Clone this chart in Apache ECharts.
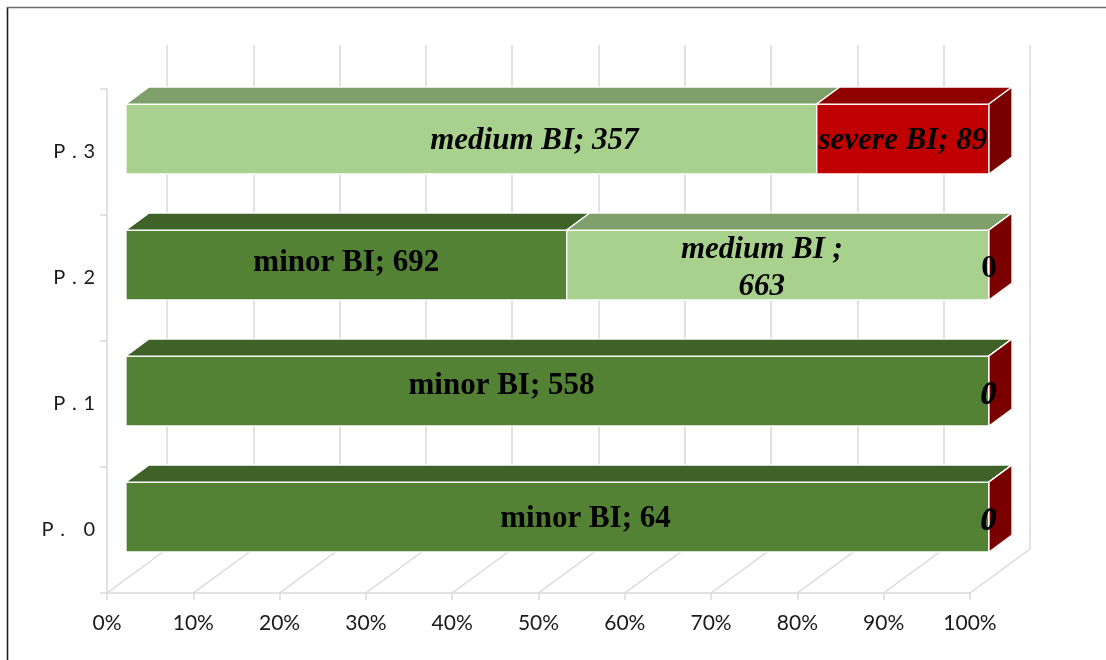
<!DOCTYPE html>
<html>
<head>
<meta charset="utf-8">
<script src="https://cdn.jsdelivr.net/npm/echarts@6/dist/echarts.min.js"></script>
<style>
  html, body { margin: 0; padding: 0; background: #ffffff; }
  #chart { width: 1106px; height: 660px; }
</style>
</head>
<body>
<div id="chart"></div>
<script>
// ---- data ----
const categories = ['P. 0', 'P.1', 'P.2', 'P.3'];
const seriesNames = ['minor BI', 'medium BI', 'severe BI'];
const minorBI  = [64, 558, 692, 0];
const mediumBI = [0, 0, 663, 357];
const severeBI = [0, 0, 0, 89];
const percentTicks = [0, 10, 20, 30, 40, 50, 60, 70, 80, 90, 100];

// ---- layout / style ----
const FRONT = { left: 107, top: 89, width: 863, height: 504 };   // axis plane (floor front edge)
const WALL_OFFSET = [60, -44];     // back wall relative to the front plane
const BAR_OFFSET = [19, -13];      // bar front faces relative to the front plane
const BAR_DEPTH = [23, -17];       // thickness of each box
const BAR_FILL = 0.555;            // share of a category band used by a bar
const GRID_COLOR = '#d9d9d9';

const PALETTE = [
  { front: '#548235', top: '#3f6229', side: '#3a5a24' },
  { front: '#a9d18e', top: '#7f9f6b', side: '#6f8d5c' },
  { front: '#c00000', top: '#900000', side: '#7a0000' }
];

// label appearance per series / point
const LABEL_FONT = 31;
const labelItalic = [
  [false, false, false, false],
  [true, true, true, true],
  [true, true, false, true]
];
const labelSeparator = [
  ['; ', '; ', '; ', '; '],
  ['; ', '; ', ' ;\n', '; '],
  ['; ', '; ', '; ', '; ']
];
const labelShift = [
  [[28, 2], [-56, -5], [0, -2], [0, 0]],
  [[0, 4], [0, 4], [-16, 3], [63, 2]],
  [[-1, 5], [-1, 5], [0, 4], [0, 2]]
];
const labelHidden = [
  [false, false, false, true],
  [false, false, false, false],
  [false, false, false, false]
];

// ---- build stacked 100% segments ----
const valueSets = [minorBI, mediumBI, severeBI];
const totals = categories.map((_, c) => valueSets.reduce((s, arr) => s + arr[c], 0));
const segments = valueSets.map(() => []);
categories.forEach((_, c) => {
  let acc = 0;
  valueSets.forEach((arr, si) => {
    const start = acc;
    acc += arr[c] / totals[c] * 100;
    segments[si].push([c, start, acc, arr[c]]);
  });
});

function boxRenderer(si) {
  return function (params, api) {
    const c = api.value(0), s = api.value(1), e = api.value(2), raw = api.value(3);
    const a = api.coord([s, c]);
    const b = api.coord([e, c]);
    const h = api.size([0, 1])[1] * BAR_FILL;
    const xL = a[0], xR = b[0], yT = a[1] - h / 2, yB = a[1] + h / 2;
    const dx = BAR_DEPTH[0], dy = BAR_DEPTH[1];
    const col = PALETTE[si];
    const edge = { stroke: '#ffffff', lineWidth: 1.3, lineJoin: 'round' };
    const children = [
      { type: 'polygon', shape: { points: [[xL, yB], [xR, yB], [xR, yT], [xL, yT]] },
        style: Object.assign({ fill: col.front }, edge) },
      { type: 'polygon', shape: { points: [[xL, yT], [xR, yT], [xR + dx, yT + dy], [xL + dx, yT + dy]] },
        style: Object.assign({ fill: col.top }, edge) }
    ];
    if (e >= 99.999) {
      children.push({ type: 'polygon',
        shape: { points: [[xR, yB], [xR, yT], [xR + dx, yT + dy], [xR + dx, yB + dy]] },
        style: Object.assign({ fill: col.side }, edge) });
    }
    if (!labelHidden[si][c]) {
      const txt = raw === 0 ? '0' : seriesNames[si] + labelSeparator[si][c] + raw;
      const sh = labelShift[si][c];
      children.push({
        type: 'text', z2: 100,
        style: {
          text: txt,
          x: (xL + xR) / 2 + sh[0],
          y: (yT + yB) / 2 + sh[1],
          align: 'center', verticalAlign: 'middle',
          fontFamily: '"Liberation Serif", "Times New Roman", serif',
          fontWeight: 'bold',
          fontStyle: labelItalic[si][c] ? 'italic' : 'normal',
          fontSize: LABEL_FONT,
          lineHeight: 37,
          fill: '#000000'
        }
      });
    }
    return { type: 'group', children: children };
  };
}

function shifted(off) {
  return { left: FRONT.left + off[0], top: FRONT.top + off[1], width: FRONT.width, height: FRONT.height };
}

const chart = echarts.init(document.getElementById('chart'), null, { renderer: 'canvas' });

const option = {
  animation: false,
  backgroundColor: '#ffffff',
  grid: [
    Object.assign({ containLabel: false }, FRONT),
    Object.assign({ containLabel: false }, shifted(BAR_OFFSET)),
    Object.assign({ containLabel: false }, shifted(WALL_OFFSET))
  ],
  xAxis: [
    {
      gridIndex: 0, type: 'value', min: 0, max: 100, interval: 10,
      axisLine: { show: true, lineStyle: { color: GRID_COLOR, width: 1.5 } },
      axisTick: { show: true, length: 7, lineStyle: { color: GRID_COLOR, width: 1.5 } },
      splitLine: { show: false },
      axisLabel: { formatter: '{value}%', margin: 20, color: '#1a1a1a',
        fontFamily: 'Lato, "Open Sans", sans-serif', fontSize: 21 }
    },
    { gridIndex: 1, type: 'value', min: 0, max: 100, show: false },
    {
      gridIndex: 2, type: 'value', min: 0, max: 100, interval: 10,
      axisLine: { show: false }, axisTick: { show: false }, axisLabel: { show: false },
      splitLine: { show: true, lineStyle: { color: GRID_COLOR, width: 1.5 } }
    }
  ],
  yAxis: [
    {
      gridIndex: 0, type: 'category', data: categories,
      axisLine: { show: true, lineStyle: { color: GRID_COLOR, width: 1.5 } },
      axisTick: { show: true, length: 7, lineStyle: { color: GRID_COLOR, width: 1.5 } },
      axisLabel: {
        margin: 12, color: '#1a1a1a', fontFamily: 'Lato, "Open Sans", sans-serif', fontSize: 20,
        formatter: v => v.split('').join('\u2004')
      }
    },
    { gridIndex: 1, type: 'category', data: categories, show: false },
    { gridIndex: 2, type: 'category', data: categories, show: false }
  ],
  series: [
    {
      // floor lines running from the front ticks to the back wall
      type: 'custom', name: 'floor', xAxisIndex: 0, yAxisIndex: 0, silent: true,
      data: percentTicks.map(v => [v, 0]),
      encode: { x: 0, y: 1 },
      renderItem: function (params, api) {
        const x = api.coord([api.value(0), 0])[0];
        const yb = params.coordSys.y + params.coordSys.height;
        return {
          type: 'line',
          shape: { x1: x, y1: yb, x2: x + WALL_OFFSET[0], y2: yb + WALL_OFFSET[1] },
          style: { stroke: GRID_COLOR, lineWidth: 1.5 }
        };
      }
    }
  ].concat(seriesNames.map((name, si) => ({
    type: 'custom', name: name, xAxisIndex: 1, yAxisIndex: 1,
    data: segments[si],
    encode: { x: [1, 2], y: 0 },
    renderItem: boxRenderer(si)
  }))),
  graphic: [
    { type: 'line', shape: { x1: 7.5, y1: 7, x2: 7.5, y2: 660 }, style: { stroke: '#1e1e1e', lineWidth: 1.6 } },
    { type: 'line', shape: { x1: 7, y1: 7.5, x2: 1106, y2: 7.5 }, style: { stroke: '#6e6e6e', lineWidth: 1.4 } }
  ]
};

chart.setOption(option);
</script>
</body>
</html>
